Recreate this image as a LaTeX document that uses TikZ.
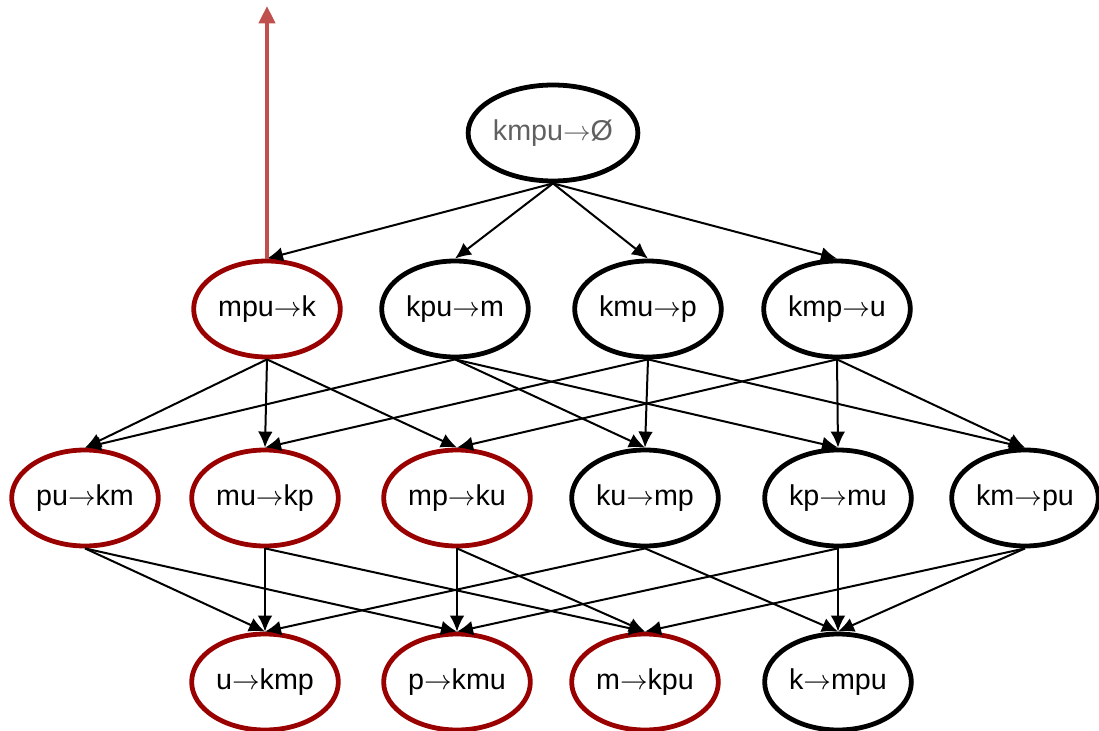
\documentclass[tikz,border=0pt]{standalone}
\usepackage{fontspec}
\setmainfont{Liberation Sans}
\usetikzlibrary{shapes.geometric}
\usetikzlibrary{arrows.meta}

\definecolor{ruledred}{RGB}{153,0,0}
\definecolor{uparrow}{RGB}{192,80,77}
\definecolor{toptext}{RGB}{96,96,96}

\newcommand{\rto}{\ensuremath{\rightarrow}}

\tikzset{
  rule/.style={ellipse, draw=black, line width=3.6pt, minimum width=110pt, minimum height=72pt, inner sep=0pt, font=\fontsize{21.5}{25}\selectfont},
  redrule/.style={rule, draw=ruledred},
  edge/.style={line width=1.5pt, -{Latex[length=12pt,width=11pt]}},
}

\begin{document}
\begin{tikzpicture}[x=0.75pt,y=-0.75pt]
\useasboundingbox (0,0) rectangle (1099,731);

%top
\node[rule, text=toptext] (kmpu) at (553,133) {kmpu\rto Ø};

%row 2
\node[redrule] (mpu) at (267,309) {mpu\rto k};
\node[rule] (kpu) at (455,309) {kpu\rto m};
\node[rule] (kmu) at (648,309) {kmu\rto p};
\node[rule] (kmp) at (837,309) {kmp\rto u};

%row 3
\node[redrule] (pu) at (85,498) {pu\rto km};
\node[redrule] (mu) at (265,498) {mu\rto kp};
\node[redrule] (mp) at (457,498) {mp\rto ku};
\node[rule] (ku) at (645,498) {ku\rto mp};
\node[rule] (kp) at (838,498) {kp\rto mu};
\node[rule] (km) at (1025,498) {km\rto pu};

%row 4
\node[redrule] (u) at (265,682) {u\rto kmp};
\node[redrule] (p) at (457,682) {p\rto kmu};
\node[redrule] (m) at (645,682) {m\rto kpu};
\node[rule] (k) at (838,682) {k\rto mpu};

%edges
\foreach \a/\b in {kmpu/mpu, kmpu/kpu, kmpu/kmu, kmpu/kmp,
  mpu/pu, mpu/mu, mpu/mp, kpu/pu, kpu/ku, kpu/kp,
  kmu/mu, kmu/ku, kmu/km, kmp/mp, kmp/kp, kmp/km,
  pu/u, pu/p, mu/u, mu/m, mp/p, mp/m,
  ku/u, ku/k, kp/p, kp/k, km/m, km/k}
  \draw[edge] (\a.south) -- (\b.north);

%way up
\coordinate (up) at (267,6);
\draw[uparrow, line width=3pt, -{Triangle[length=13pt,width=12pt]}] (mpu.north) -- (up);

\end{tikzpicture}
\end{document}
